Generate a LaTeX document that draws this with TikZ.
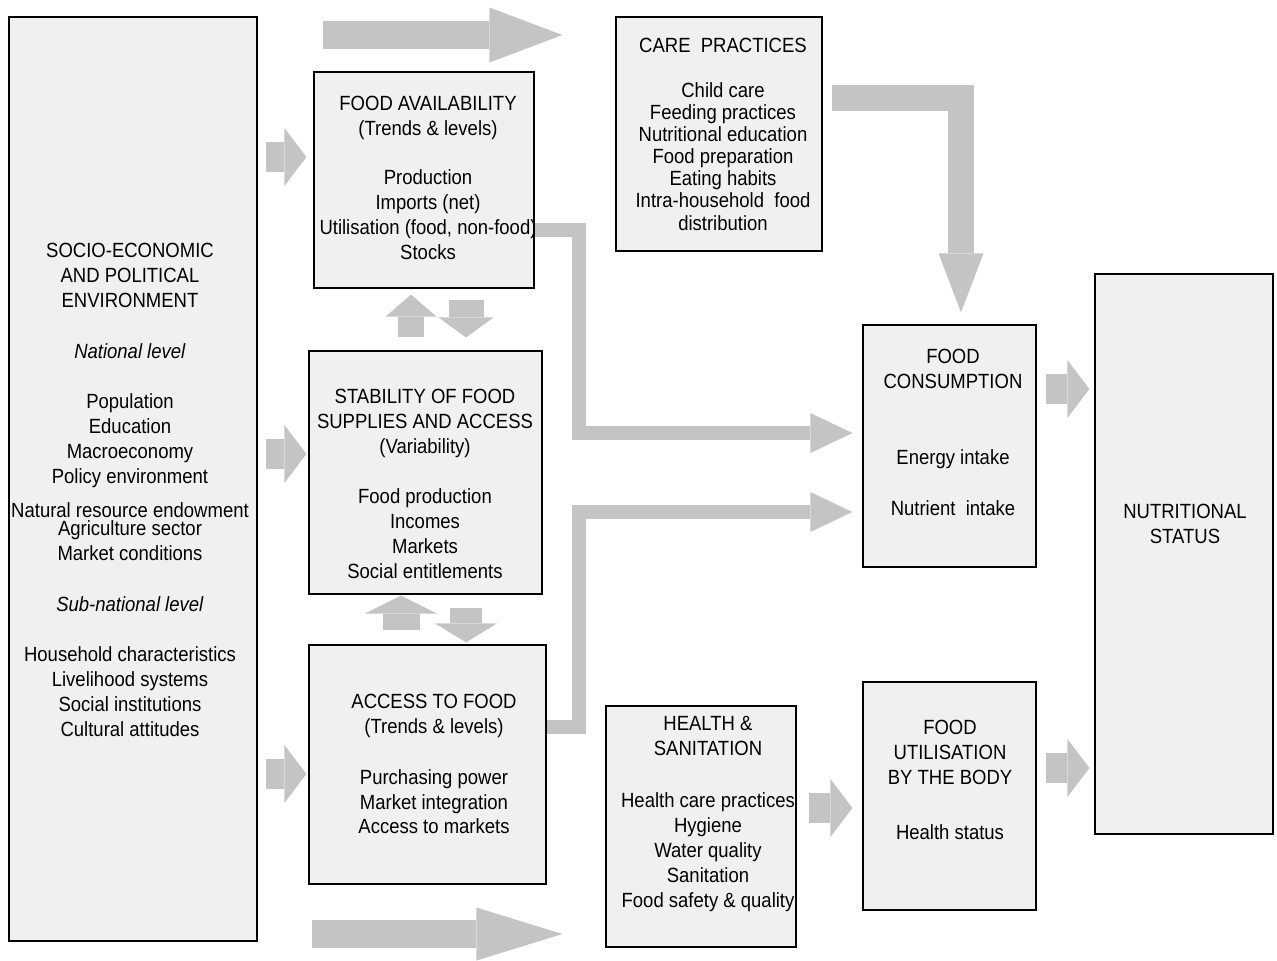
\documentclass[tikz,border=0pt]{standalone}
\usepackage{fontspec}
\setmainfont{Liberation Sans}[FakeStretch=0.9]
\usetikzlibrary{arrows.meta}
\definecolor{boxgray}{HTML}{F0F0F0}
\definecolor{flowgray}{HTML}{C4C4C4}
\tikzstyle{box} = [rectangle, draw=black, line width=0.7pt, fill=boxgray]
\tikzstyle{txt} = [align=center, inner sep=0pt, font=\fontsize{11.7}{14.2}\selectfont]
\tikzstyle{fat} = [draw=flowgray, line width=0.6cm, -{Triangle[length=0.44cm, width=1.16cm, line width=0pt]}]
\tikzstyle{wide} = [draw=flowgray, line width=0.56cm]
\tikzstyle{elbow} = [draw=flowgray, line width=0.28cm, miter limit=4, -{Triangle[length=0.84cm, width=0.8cm, line width=0pt]}]
\tikzstyle{careflow} = [draw=flowgray, line width=0.52cm, -{Triangle[length=1.18cm, width=0.9cm, line width=0pt]}]
\tikzstyle{vflow} = [draw=flowgray]

\begin{document}
\begin{tikzpicture}[x=0.02cm, y=-0.02cm]
    \useasboundingbox (0,0) rectangle (1277,960);
    % boxes
    \node (env) [box, minimum width=4.96cm, minimum height=18.48cm] at (133,479) {};
    \node (avail) [box, minimum width=4.4cm, minimum height=4.32cm] at (424,180) {};
    \node (stab) [box, minimum width=4.66cm, minimum height=4.86cm] at (425.5,472.5) {};
    \node (access) [box, minimum width=4.74cm, minimum height=4.78cm] at (427.5,764.5) {};
    \node (care) [box, minimum width=4.12cm, minimum height=4.68cm] at (719,134) {};
    \node (health) [box, minimum width=3.8cm, minimum height=4.82cm] at (701,826.5) {};
    \node (cons) [box, minimum width=3.46cm, minimum height=4.84cm] at (949.5,446) {};
    \node (util) [box, minimum width=3.46cm, minimum height=4.56cm] at (949.5,796) {};
    \node (nutr) [box, minimum width=3.56cm, minimum height=11.2cm] at (1184,554) {};
    % texts
    \node (envtxt) [txt] at (130,490) {SOCIO-ECONOMIC\\ AND POLITICAL\\ ENVIRONMENT\\[0.52cm]
        \textit{National level}\\[0.5cm]
        Population\\ Education\\ Macroeconomy\\ Policy environment\\[0.18cm]
        Natural resource endowment\\[-0.14cm]
        Agriculture sector\\ Market conditions\\[0.52cm]
        \textit{Sub-national level}\\[0.5cm]
        Household characteristics\\ Livelihood systems\\ Social institutions\\ Cultural attitudes};
    \node (availtxt) [txt] at (428,178) {FOOD AVAILABILITY\\ (Trends \& levels)\\[0.48cm]
        Production\\ Imports (net)\\ Utilisation (food, non-food)\\ Stocks};
    \node (caretxt) [txt, font=\fontsize{11.7}{12.6}\selectfont] at (723,134) {CARE~~PRACTICES\\[0.46cm]
        Child care\\ Feeding practices\\ Nutritional education\\ Food preparation\\ Eating habits\\
        Intra-household~~food\\ distribution};
    \node (stabtxt) [txt] at (425,484) {STABILITY OF FOOD\\ SUPPLIES AND ACCESS\\ (Variability)\\[0.5cm]
        Food production\\ Incomes\\ Markets\\ Social entitlements};
    \node (accesstxt) [txt] at (434,764) {ACCESS TO FOOD\\ (Trends \& levels)\\[0.52cm]
        Purchasing power\\ Market integration\\ Access to markets};
    \node (healthtxt) [txt] at (708,814) {HEALTH \&\\ SANITATION\\[0.54cm]
        Health care practices\\ Hygiene\\ Water quality\\ Sanitation\\ Food safety \& quality};
    \node (constxt) [txt] at (953,432) {FOOD\\ CONSUMPTION\\[1.02cm] Energy intake\\[0.52cm] Nutrient~~intake};
    \node (utiltxt) [txt] at (950,780) {FOOD\\ UTILISATION\\ BY THE BODY\\[0.6cm] Health status};
    \node (nutrtxt) [txt] at (1185,524) {NUTRITIONAL\\ STATUS};
    % big arrows top and bottom
    \draw[wide, -{Triangle[length=1.46cm, width=1.1cm, line width=0pt]}] ([xshift=0.2cm]avail.west |- 0,35) -- ([xshift=-1.06cm]care.west |- 0,35);
    \draw[wide, -{Triangle[length=1.72cm, width=1.06cm, line width=0pt]}] ([xshift=0.08cm]access.west |- 0,934) -- ([xshift=-0.86cm]health.west |- 0,934);
    % environment into the three boxes
    \draw[fat] ([xshift=0.16cm]env.east |- 0,157) -- ([xshift=-0.14cm]avail.west |- 0,157);
    \draw[fat] ([xshift=0.16cm]env.east |- 0,454) -- ([xshift=-0.04cm]stab.west |- 0,454);
    \draw[fat] ([xshift=0.16cm]env.east |- 0,774) -- ([xshift=-0.04cm]access.west |- 0,774);
    % up and down between boxes
    \draw[vflow, line width=0.52cm, -{Triangle[length=0.44cm, width=1.02cm, line width=0pt]}] ([yshift=0.26cm]stab.north -| 411,0) -- ([yshift=-0.12cm]avail.south -| 411,0);
    \draw[vflow, line width=0.7cm, -{Triangle[length=0.4cm, width=1.1cm, line width=0pt]}] ([yshift=-0.22cm]avail.south -| 466,0) -- ([yshift=0.26cm]stab.north -| 466,0);
    \draw[vflow, line width=0.74cm, -{Triangle[length=0.36cm, width=1.44cm, line width=0pt]}] ([yshift=0.28cm]access.north -| 401,0) -- ([yshift=-0.02cm]stab.south -| 401,0);
    \draw[vflow, line width=0.64cm, -{Triangle[length=0.38cm, width=1.24cm, line width=0pt]}] ([yshift=-0.26cm]stab.south -| 466,0) -- ([yshift=0.04cm]access.north -| 466,0);
    % elbows to consumption
    \draw[elbow] (avail.east |- 0,230) -| (579,433) -- ([xshift=-0.2cm]cons.west |- 0,433);
    \draw[elbow] (access.east |- 0,727) -| (579,512) -- ([xshift=-0.2cm]cons.west |- 0,512);
    \draw[careflow] ([xshift=0.18cm]care.east |- 0,98) -| ([yshift=0.24cm]cons.north -| 961,0);
    % into nutritional status
    \draw[fat] ([xshift=0.18cm]cons.east |- 0,389) -- ([xshift=-0.1cm]nutr.west |- 0,389);
    \draw[fat] ([xshift=0.18cm]util.east |- 0,768) -- ([xshift=-0.1cm]nutr.west |- 0,768);
    \draw[fat] ([xshift=0.24cm]health.east |- 0,808) -- ([xshift=-0.2cm]util.west |- 0,808);
\end{tikzpicture}
\end{document}
